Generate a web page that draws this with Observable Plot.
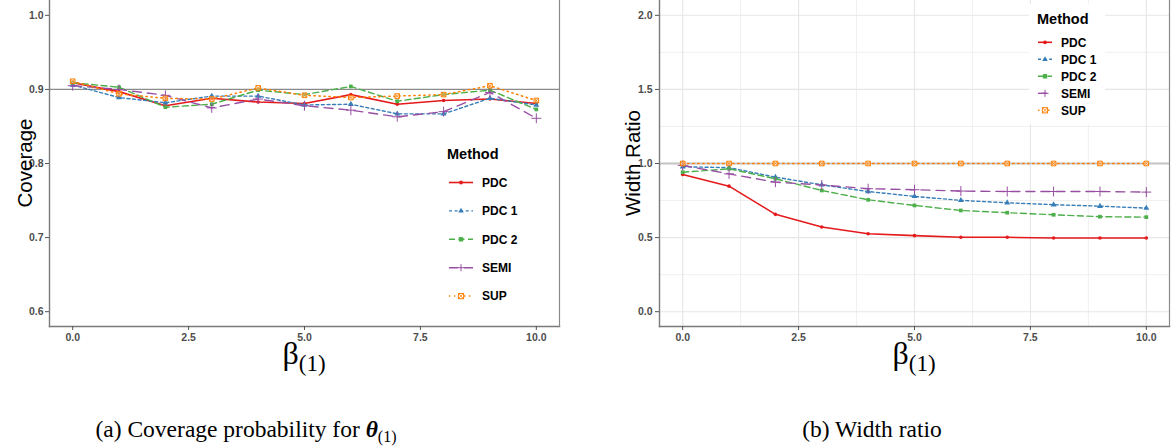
<!DOCTYPE html>
<html>
<head>
<meta charset="utf-8">
<script src="https://cdn.jsdelivr.net/npm/d3@7"></script>
<script src="https://cdn.jsdelivr.net/npm/@observablehq/plot@0.6"></script>
<style>
  html, body { margin:0; padding:0; background:#fff; }
  body { width:1172px; height:448px; overflow:hidden; position:relative; font-family:"Liberation Sans", Arial, sans-serif; }
  .chart { position:absolute; top:0; }
  .ytitle { position:absolute; font-size:20.5px; color:#000; white-space:nowrap; transform:translate(-50%,-50%) rotate(-90deg); }
  .xtitle { position:absolute; font-family:"Liberation Serif","DejaVu Serif",serif; font-size:32px; line-height:1; color:#000; transform:translateX(-50%); white-space:nowrap; }
  .xtitle sub { font-size:23px; vertical-align:-7px; }
  .caption { position:absolute; font-family:"Liberation Serif","DejaVu Serif",serif; font-size:23.5px; color:#000; transform:translateX(-50%); white-space:nowrap; line-height:1; }
  .caption sub { font-size:16px; vertical-align:-5px; }
  .legend { position:absolute; }
</style>
</head>
<body>
<div id="left" class="chart" style="left:0px"></div>
<div id="right" class="chart" style="left:600px"></div>
<div class="ytitle" style="left:25px; top:163px">Coverage</div>
<div class="ytitle" style="left:633px; top:163px">Width Ratio</div>
<div class="xtitle" style="left:304px; top:337px">β<sub>(1)</sub></div>
<div class="xtitle" style="left:914px; top:337px">β<sub>(1)</sub></div>
<div class="caption" style="left:246px; top:418px">(a) Coverage probability for <b><i>θ</i></b><sub>(1)</sub></div>
<div class="caption" style="left:872px; top:418px">(b) Width ratio</div>
<svg id="legL" class="legend" style="left:440px; top:138px" width="110" height="170"></svg>
<svg id="legR" class="legend" style="left:1029px; top:4px" width="76" height="120"></svg>
<script>
// ---------- data ----------
const beta = [0, 1, 2, 3, 4, 5, 6, 7, 8, 9, 10];
const methods = ["PDC", "PDC 1", "PDC 2", "SEMI", "SUP"];
const xTicks = [0, 2.5, 5, 7.5, 10];
const xMinor = [1.25, 3.75, 6.25, 8.75];
const coverageTicks = [0.6, 0.7, 0.8, 0.9, 1.0];
const ratioTicks = [0, 0.5, 1.0, 1.5, 2.0];
const ratioMinor = [0.25, 0.75, 1.25, 1.75];
const coverageNominal = [0.9];
const ratioReference = [1.0];

const coveragePDC  = [0.909, 0.897, 0.878, 0.888, 0.883, 0.881, 0.893, 0.880, 0.885, 0.887, 0.881];
const coveragePDC1 = [0.906, 0.889, 0.882, 0.891, 0.891, 0.879, 0.880, 0.867, 0.867, 0.888, 0.879];
const coveragePDC2 = [0.909, 0.903, 0.876, 0.880, 0.899, 0.893, 0.904, 0.884, 0.893, 0.899, 0.873];
const coverageSEMI = [0.905, 0.900, 0.892, 0.875, 0.887, 0.878, 0.872, 0.863, 0.870, 0.896, 0.861];
const coverageSUP  = [0.911, 0.894, 0.888, 0.887, 0.902, 0.892, 0.889, 0.891, 0.893, 0.905, 0.885];

const ratioPDC  = [0.926, 0.847, 0.657, 0.571, 0.526, 0.513, 0.502, 0.502, 0.497, 0.497, 0.497];
const ratioPDC1 = [0.978, 0.972, 0.908, 0.856, 0.811, 0.778, 0.751, 0.735, 0.722, 0.712, 0.699];
const ratioPDC2 = [0.941, 0.964, 0.897, 0.818, 0.755, 0.717, 0.683, 0.668, 0.654, 0.641, 0.638];
const ratioSEMI = [0.987, 0.930, 0.874, 0.855, 0.830, 0.823, 0.814, 0.811, 0.811, 0.811, 0.807];
const ratioSUP  = [1.000, 1.000, 1.000, 1.000, 1.000, 1.000, 1.000, 1.000, 1.000, 1.000, 1.000];

// ---------- styles ----------
const styles = {
  "PDC":   {color:"#E41A1C", dash:null,      symbol:"circle",   r:1.8, width:1.6},
  "PDC 1": {color:"#377EB8", dash:"3,2.6",   symbol:"triangle", r:2.2, width:1.4},
  "PDC 2": {color:"#4DAF4A", dash:"6,3.5",   symbol:"square",   r:2.1, width:1.4},
  "SEMI":  {color:"#984EA3", dash:"9,6",     symbol:"plus",     r:3.3, width:1.4},
  "SUP":   {color:"#FF7F00", dash:"1.4,3.6", symbol:"squarex",  r:2.6, width:1.5}
};

function toRows(series) {
  return methods.flatMap((m, i) => beta.map((b, j) => ({method: m, beta: b, value: series[i][j]})));
}
const coverageRows = toRows([coveragePDC, coveragePDC1, coveragePDC2, coverageSEMI, coverageSUP]);
const ratioRows = toRows([ratioPDC, ratioPDC1, ratioPDC2, ratioSEMI, ratioSUP]);

function seriesMarks(rows) {
  const marks = [];
  for (const m of methods) {
    const s = styles[m];
    const d = rows.filter(r => r.method === m);
    marks.push(Plot.line(d, {x:"beta", y:"value", stroke:s.color, strokeWidth:s.width, strokeDasharray:s.dash}));
  }
  for (const m of methods) {
    const s = styles[m];
    const d = rows.filter(r => r.method === m);
    if (s.symbol === "squarex") {
      marks.push(Plot.dot(d, {x:"beta", y:"value", symbol:"square", r:s.r, stroke:s.color, fill:"#fff", fillOpacity:0.4, strokeWidth:1}));
      marks.push(Plot.dot(d, {x:"beta", y:"value", symbol:"times", r:s.r*0.85, stroke:s.color, strokeWidth:0.8}));
    } else if (s.symbol === "plus") {
      marks.push(Plot.dot(d, {x:"beta", y:"value", symbol:"plus", r:s.r, stroke:s.color, strokeWidth:1}));
    } else {
      marks.push(Plot.dot(d, {x:"beta", y:"value", symbol:s.symbol, r:s.r, fill:s.color, stroke:null}));
    }
  }
  return marks;
}

const baseStyle = {fontFamily:"'Liberation Sans', Arial, sans-serif", fontSize:"10.5px", fontWeight:"bold", color:"#4d4d4d", background:"transparent", overflow:"visible"};

const frameMarks = (stroke) => [
  Plot.frame({anchor:"left", stroke:"#7a7a7a", strokeWidth:1.4}),
  Plot.frame({anchor:"bottom", stroke:"#7a7a7a", strokeWidth:1.4}),
  Plot.frame({anchor:"right", stroke:stroke, strokeWidth:1.2})
];

const left = Plot.plot({
  width:580, height:390,
  marginLeft:49, marginRight:21, marginTop:0, marginBottom:64,
  x:{domain:[-0.5, 10.5]},
  y:{domain:[0.58, 1.02]},
  style: baseStyle,
  marks:[
    Plot.ruleY(coverageNominal, {stroke:"#8a8a8a", strokeWidth:1.1}),
    ...seriesMarks(coverageRows),
    ...frameMarks("#8a8a8a"),
    Plot.axisX(xTicks, {tickFormat:d3.format(".1f"), tickSize:4, tickPadding:3, label:null, stroke:"#555"}),
    Plot.axisY(coverageTicks, {tickFormat:d3.format(".1f"), tickSize:4, tickPadding:2, label:null, stroke:"#555"})
  ]
});
document.getElementById("left").append(left);

const right = Plot.plot({
  width:572, height:390,
  marginLeft:59, marginRight:3, marginTop:0, marginBottom:64,
  x:{domain:[-0.5, 10.5]},
  y:{domain:[-0.1, 2.1]},
  style: baseStyle,
  marks:[
    Plot.gridX(xMinor, {stroke:"#f0f0f0", strokeOpacity:1, strokeWidth:1}),
    Plot.gridY(ratioMinor, {stroke:"#f0f0f0", strokeOpacity:1, strokeWidth:1}),
    Plot.gridX(xTicks, {stroke:"#e6e6e6", strokeOpacity:1, strokeWidth:1.1}),
    Plot.gridY(ratioTicks, {stroke:"#e6e6e6", strokeOpacity:1, strokeWidth:1.1}),
    Plot.ruleY(ratioReference, {stroke:"#c4c4c4", strokeWidth:2}),
    ...seriesMarks(ratioRows),
    ...frameMarks("#8a8a8a"),
    Plot.axisX(xTicks, {tickFormat:d3.format(".1f"), tickSize:4, tickPadding:3, label:null, stroke:"#555"}),
    Plot.axisY(ratioTicks, {tickFormat:d3.format(".1f"), tickSize:4, tickPadding:3, label:null, stroke:"#555"})
  ]
});
document.getElementById("right").append(right);

// ---------- legends ----------
function drawKey(g, s, x0, x1, y) {
  const line = g.append("line").attr("x1", x0).attr("x2", x1).attr("y1", y).attr("y2", y)
    .attr("stroke", s.color).attr("stroke-width", s.width);
  if (s.dash) line.attr("stroke-dasharray", s.dash);
  const cx = (x0 + x1) / 2;
  if (s.symbol === "circle") {
    g.append("circle").attr("cx", cx).attr("cy", y).attr("r", 1.9).attr("fill", s.color);
  } else if (s.symbol === "triangle") {
    g.append("path").attr("d", d3.symbol(d3.symbolTriangle, 13)()).attr("transform", `translate(${cx},${y})`).attr("fill", s.color);
  } else if (s.symbol === "square") {
    g.append("rect").attr("x", cx - 2.2).attr("y", y - 2.2).attr("width", 4.4).attr("height", 4.4).attr("fill", s.color);
  } else if (s.symbol === "plus") {
    g.append("path").attr("d", `M${cx-3.5},${y}H${cx+3.5}M${cx},${y-3.5}V${y+3.5}`).attr("stroke", s.color).attr("stroke-width", 1);
  } else {
    g.append("rect").attr("x", cx - 2.6).attr("y", y - 2.6).attr("width", 5.2).attr("height", 5.2).attr("fill", "#fff").attr("stroke", s.color).attr("stroke-width", 1);
    g.append("path").attr("d", `M${cx-2.2},${y-2.2}L${cx+2.2},${y+2.2}M${cx-2.2},${y+2.2}L${cx+2.2},${y-2.2}`).attr("stroke", s.color).attr("stroke-width", 0.8);
  }
}
function legend(id, opts) {
  const svg = d3.select(id).style("font-family", "'Liberation Sans', Arial, sans-serif");
  if (opts.bg) svg.append("rect").attr("width", "100%").attr("height", "100%").attr("fill", "#fff");
  svg.append("text").attr("x", opts.titleX).attr("y", opts.titleY).attr("dy", "0.35em")
    .attr("font-size", 14.5).attr("font-weight", "bold").attr("fill", "#000").text("Method");
  methods.forEach((m, i) => {
    const y = opts.y0 + i * opts.step;
    const g = svg.append("g");
    drawKey(g, styles[m], opts.k0, opts.k1, y);
    svg.append("text").attr("x", opts.labelX).attr("y", y).attr("dy", "0.35em")
      .attr("font-size", 12).attr("font-weight", "bold").attr("fill", "#000").text(m);
  });
}
legend("#legL", {titleX:7, titleY:16, y0:44.5, step:28.4, k0:9, k1:33, labelX:42});
legend("#legR", {bg:true, titleX:8, titleY:14.5, y0:38.3, step:17, k0:9, k1:23, labelX:32});
</script>
</body>
</html>
